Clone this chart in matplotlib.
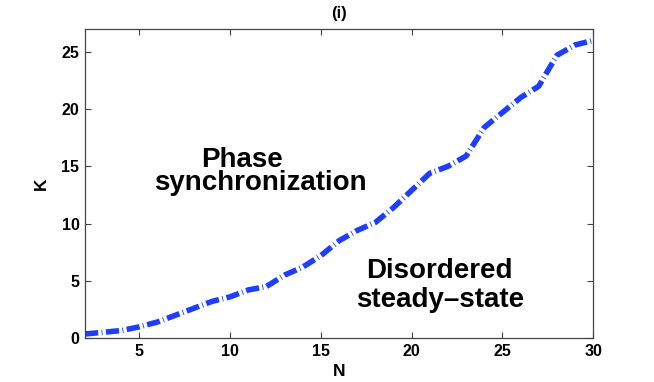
import matplotlib
matplotlib.use('Agg')
import matplotlib.pyplot as plt

N = [2, 3, 4, 5, 6, 7, 8, 9, 10, 11, 12, 13, 14, 15, 16,
     17, 18, 19, 20, 21, 22, 23, 24, 25, 26, 27, 28, 29, 30]
K = [0.35, 0.5, 0.65, 0.98, 1.4, 2.0, 2.6, 3.2, 3.6, 4.2, 4.5, 5.5, 6.2, 7.2, 8.5,
     9.4, 10.1, 11.4, 12.9, 14.4, 15.0, 15.9, 18.4, 19.7, 21.0, 22.0, 24.7, 25.6, 26.0]
xticks = [5, 10, 15, 20, 25, 30]
yticks = [0, 5, 10, 15, 20, 25]

plt.rcParams['font.family'] = ['Liberation Sans', 'DejaVu Sans']
plt.rcParams['font.weight'] = 'bold'
plt.rcParams['lines.scale_dashes'] = False

fig = plt.figure(figsize=(6.54, 3.82), dpi=100)
ax = fig.add_axes([0.130, 0.1152, 0.777, 0.809])

ln, = ax.plot(N, K, color='#1f3dff', lw=4)
ln.set_dashes([9.5, 2.5, 0.6, 2.5])
ln.set_dash_capstyle('butt')

ax.set_xlim(2, 30)
ax.set_ylim(0, 27)
ax.set_xticks(xticks)
ax.set_yticks(yticks)
ax.tick_params(direction='in', length=4, width=0.8, top=True, right=True,
               labelsize=11.5, colors='#444444', labelcolor='black', pad=4)
for lab in ax.get_xticklabels() + ax.get_yticklabels():
    lab.set_fontweight('bold')
for s in ax.spines.values():
    s.set_color('#444444')
    s.set_linewidth(0.9)

ax.set_xlabel('N', fontsize=12.5, fontweight='bold', labelpad=4)
ax.set_ylabel('K', fontsize=12.5, fontweight='bold', labelpad=9)
ax.set_title('(i)', fontsize=12, fontweight='bold', pad=8)

# region labels
ax.text(10.65, 14.95, 'Phase', ha='center', va='baseline',
        fontsize=20, fontweight='bold')
ax.text(11.65, 12.9, 'synchronization', ha='center', va='baseline',
        fontsize=20, fontweight='bold')
ax.text(21.5, 5.2, 'Disordered', ha='center', va='baseline',
        fontsize=20, fontweight='bold')
ax.text(21.55, 2.75, 'steady\u2013state', ha='center', va='baseline',
        fontsize=20, fontweight='bold')

fig.savefig('out.png', dpi=100)
